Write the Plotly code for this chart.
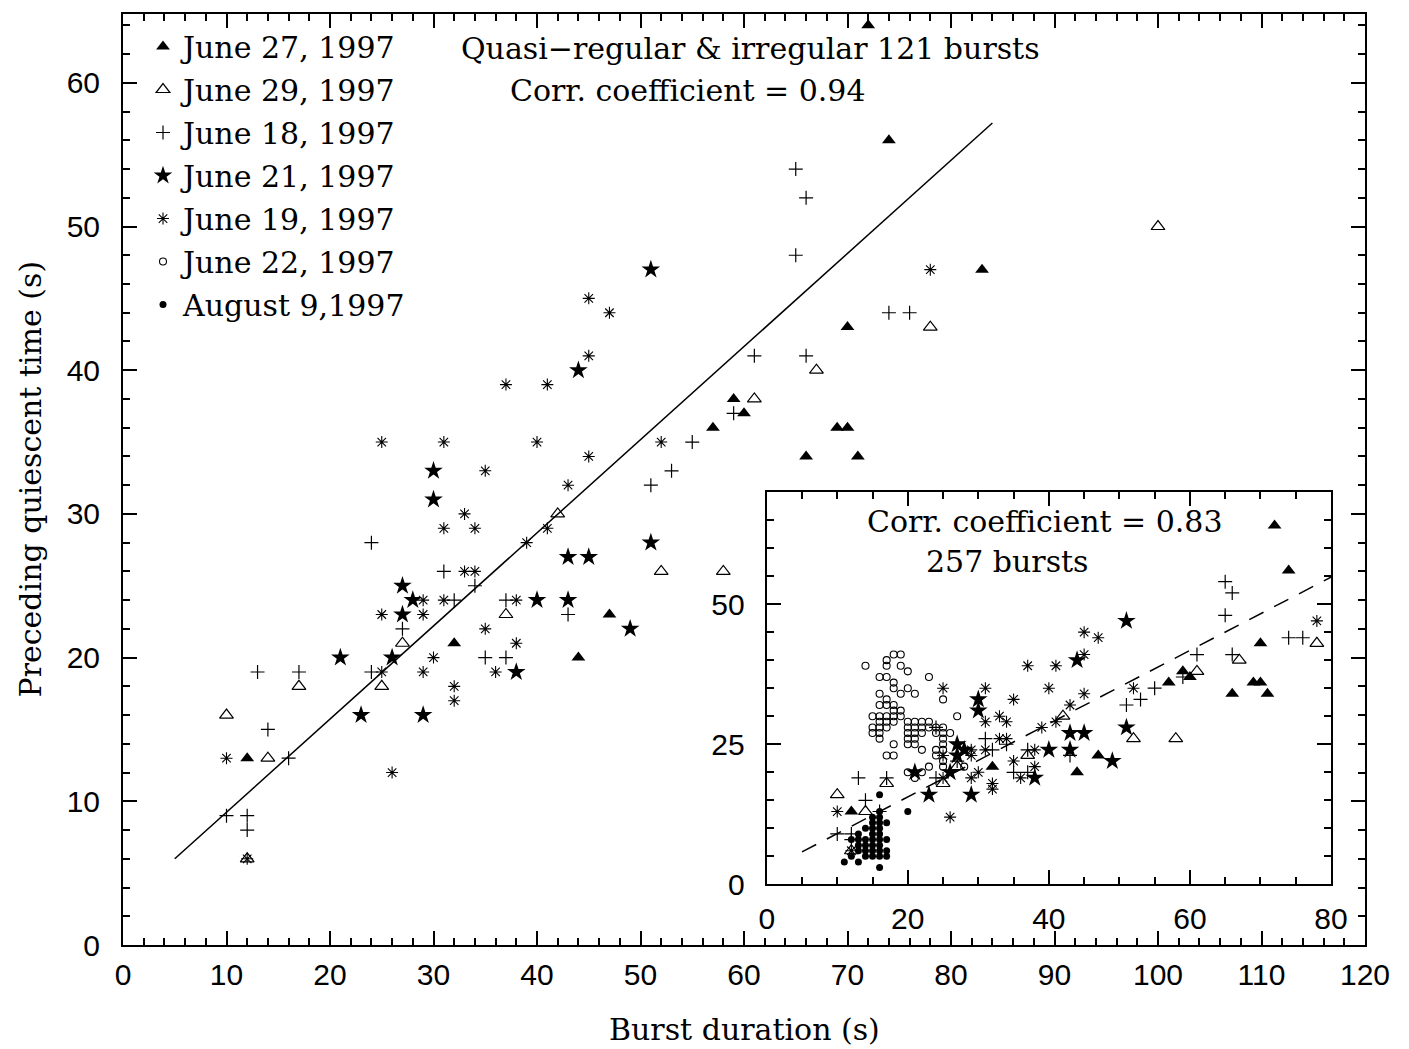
import plotly.graph_objects as go

# ---- quasi-regular & irregular bursts (main panel) ----
jun27_x = [12, 32, 44, 47, 57, 59, 60, 66, 69, 70, 71, 70, 72, 74, 83]
jun27_y = [13, 21, 20, 23, 36, 38, 37, 34, 36, 36, 34, 43, 64, 56, 47]

jun29_x = [10, 12, 14, 17, 25, 27, 37, 42, 52, 58, 61, 67, 78, 100]
jun29_y = [16, 6, 13, 18, 18, 21, 23, 30, 26, 26, 38, 40, 43, 50]

jun18_x = [10, 12, 12, 13, 14, 16, 17, 24, 24, 27, 31, 32, 34, 35, 37, 37, 43,
           51, 53, 55, 59, 61, 65, 66, 65, 66, 74, 76]
jun18_y = [9, 9, 8, 19, 15, 13, 19, 28, 19, 22, 26, 24, 25, 20, 20, 24, 23,
           32, 33, 35, 37, 41, 54, 52, 48, 41, 44, 44]

jun21_x = [21, 23, 26, 27, 27, 28, 29, 30, 30, 38, 40, 43, 43, 44, 45, 49, 51, 51]
jun21_y = [20, 16, 20, 25, 23, 24, 16, 33, 31, 19, 24, 27, 24, 40, 27, 22, 28, 47]

jun19_x = [10, 12, 25, 25, 25, 26, 29, 29, 29, 30, 31, 31, 31, 32, 32, 33, 33, 34,
           34, 35, 35, 36, 37, 38, 38, 39, 40, 41, 41, 43, 45, 45, 45, 47, 52, 78]
jun19_y = [13, 6, 35, 23, 19, 12, 24, 23, 19, 20, 35, 29, 24, 18, 17, 30, 26, 29,
           26, 33, 22, 19, 39, 24, 21, 28, 35, 39, 29, 32, 41, 45, 34, 44, 35, 47]

# ---- additional bursts shown only in the inset ----
jun22_x = [14, 17, 17, 18, 19, 19, 20, 16, 17, 18, 18, 20, 23, 16, 17, 19, 21, 25,
           16, 17, 18, 18, 19, 15, 16, 17, 18, 19, 27,
           16, 17, 18, 20, 21, 22, 23,
           15, 16, 17, 20, 21, 22, 23, 24, 25,
           15, 16, 20, 21, 22, 24, 25, 26,
           16, 20, 21, 25,
           18, 20, 21, 25,
           22, 24, 25,
           17, 18, 24, 25,
           23, 25, 28, 20, 22, 21]
jun22_y = [39, 40, 39, 41, 41, 39, 38, 37, 37, 36, 35, 35, 37, 34, 33, 34, 34, 33,
           32, 32, 32, 31, 31, 30, 30, 30, 30, 30, 30,
           29, 29, 29, 29, 29, 29, 29,
           28, 28, 28, 28, 28, 28, 28, 28, 28,
           27, 27, 27, 27, 27, 27, 27, 27,
           26, 26, 26, 26,
           25, 25, 25, 25,
           24, 24, 24,
           23, 23, 23, 22,
           21, 21, 21, 20, 20, 19]

aug9_x = [11, 12, 12, 13, 13, 13, 13, 13, 14, 14, 14, 14, 14, 15, 15, 15, 15, 15,
          15, 15, 15, 16, 16, 16, 16, 16, 16, 16, 16, 16, 16, 16, 17, 17, 17, 17, 20]
aug9_y = [4, 8, 5, 4, 6, 7, 8, 9, 5, 6, 7, 8, 10, 5, 6, 7, 8, 9,
          10, 11, 12, 3, 5, 6, 7, 8, 9, 10, 11, 12, 13, 16, 5, 6, 8, 11, 13]

# fitted relations (end points)
fit_x = [5, 84]
fit_y = [6.0, 57.2]
fit_all_x = [5, 80]
fit_all_y = [5.8, 54.8]

SERIF = "DejaVu Serif"
SANS = "Liberation Sans"
TXT = 30

styles = {
    "June 27, 1997": dict(symbol="triangle-up", size=12, color="black", line=dict(width=0)),
    "June 29, 1997": dict(symbol="triangle-up-open", size=12, color="black", line=dict(width=1.2, color="black")),
    "June 18, 1997": dict(symbol="cross-thin-open", size=10, color="black", line=dict(width=1.2, color="black")),
    "June 21, 1997": dict(symbol="star", size=14, color="black", line=dict(width=0)),
    "June 19, 1997": dict(symbol="asterisk-open", size=10, color="black", line=dict(width=1.1, color="black")),
    "June 22, 1997": dict(symbol="circle-open", size=7, color="black", line=dict(width=1.1, color="black")),
    "August 9,1997": dict(symbol="circle", size=7, color="black", line=dict(width=0)),
}

main_series = [
    ("June 27, 1997", jun27_x, jun27_y),
    ("June 29, 1997", jun29_x, jun29_y),
    ("June 18, 1997", jun18_x, jun18_y),
    ("June 21, 1997", jun21_x, jun21_y),
    ("June 19, 1997", jun19_x, jun19_y),
]
inset_only = [
    ("June 22, 1997", jun22_x, jun22_y),
    ("August 9,1997", aug9_x, aug9_y),
]

fig = go.Figure()

# fitted line in the main panel
fig.add_trace(go.Scatter(x=fit_x, y=fit_y, mode="lines", line=dict(color="black", width=1.5),
                         showlegend=False, xaxis="x", yaxis="y", hoverinfo="skip"))

for rank, (name, xs, ys) in enumerate(main_series, start=1):
    fig.add_trace(go.Scatter(x=xs, y=ys, mode="markers", name=name, marker=styles[name],
                             legendgroup=name, legendrank=rank, showlegend=True,
                             xaxis="x", yaxis="y"))

# inset: all bursts
fig.add_trace(go.Scatter(x=fit_all_x, y=fit_all_y, mode="lines",
                         line=dict(color="black", width=1.5, dash="16px,12px"),
                         showlegend=False, xaxis="x2", yaxis="y2", hoverinfo="skip"))
for name, xs, ys in main_series:
    fig.add_trace(go.Scatter(x=xs, y=ys, mode="markers", name=name, marker=styles[name],
                             showlegend=False, xaxis="x2", yaxis="y2"))
for rank, (name, xs, ys) in enumerate(inset_only, start=6):
    fig.add_trace(go.Scatter(x=xs, y=ys, mode="markers", name=name, marker=styles[name],
                             legendgroup=name, legendrank=rank, showlegend=True,
                             xaxis="x2", yaxis="y2"))

axis_common = dict(showline=True, linewidth=2, linecolor="black", mirror="ticks",
                   ticks="inside", ticklen=14, tickwidth=1.5, tickcolor="black",
                   showgrid=False, zeroline=False,
                   tickfont=dict(family=SANS, size=30, color="black"))

fig.update_layout(
    width=1409, height=1049,
    margin=dict(l=123, r=44, t=12, b=104),
    paper_bgcolor="white", plot_bgcolor="white",
    xaxis=dict(domain=[0, 1], range=[0, 120], tick0=0, dtick=10, anchor="y",
               minor=dict(dtick=2, ticklen=7, tickwidth=1.5, ticks="inside", tickcolor="black"),
               ticklabelstandoff=2, **axis_common),
    yaxis=dict(domain=[0, 1], range=[0, 64.79], tick0=0, dtick=10, anchor="x",
               minor=dict(dtick=2, ticklen=7, tickwidth=1.5, ticks="inside", tickcolor="black"),
               ticklabelstandoff=15, **axis_common),
    xaxis2=dict(domain=[0.5183, 0.9726], range=[0, 80], tick0=0, dtick=20, anchor="y2",
                minor=dict(dtick=5, ticklen=7, tickwidth=1.5, ticks="inside", tickcolor="black"),
                ticklabelstandoff=7, **axis_common),
    yaxis2=dict(domain=[0.0651, 0.4866], range=[0, 70], tick0=0, dtick=25, anchor="x2",
                minor=dict(dtick=5, ticklen=7, tickwidth=1.5, ticks="inside", tickcolor="black"),
                ticklabelstandoff=14, **axis_common),
    legend=dict(x=(143 - 123) / 1242, y=0.993, xanchor="left", yanchor="top",
                font=dict(family=SERIF, size=TXT, color="black"),
                bgcolor="rgba(0,0,0,0)", traceorder="grouped", tracegroupgap=1,
                itemsizing="trace", valign="bottom"),
    font=dict(family=SERIF, color="black"),
)

annotations = [
    dict(text="Quasi\u2212regular & irregular 121 bursts", x=60.6, y=62.4, xref="x", yref="y",
         showarrow=False, font=dict(family=SERIF, size=TXT)),
    dict(text="Corr. coefficient = 0.94", x=54.6, y=59.5, xref="x", yref="y",
         showarrow=False, font=dict(family=SERIF, size=TXT)),
    dict(text="Corr. coefficient = 0.83", x=39.4, y=64.8, xref="x2", yref="y2",
         showarrow=False, font=dict(family=SERIF, size=TXT)),
    dict(text="257 bursts", x=34.2, y=57.6, xref="x2", yref="y2",
         showarrow=False, font=dict(family=SERIF, size=TXT)),
    dict(text="Burst duration (s)", x=0.5, y=(945 - 1030) / 933, xref="paper", yref="paper",
         xanchor="center", yanchor="middle", showarrow=False, font=dict(family=SERIF, size=TXT)),
    dict(text="Preceding quiescent time (s)", x=(30 - 123) / 1242, y=0.5, xref="paper", yref="paper",
         xanchor="center", yanchor="middle", textangle=-90, showarrow=False,
         font=dict(family=SERIF, size=TXT)),
]
fig.update_layout(annotations=annotations)

fig.write_html("out.html")
